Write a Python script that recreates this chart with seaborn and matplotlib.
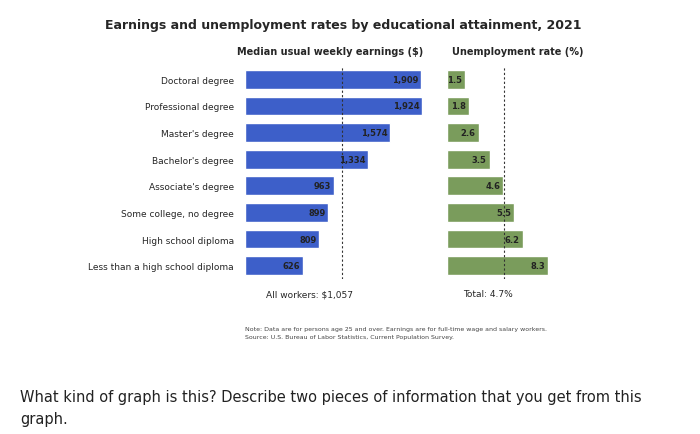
import matplotlib
matplotlib.use("Agg")
import matplotlib.pyplot as plt
import seaborn as sns
import pandas as pd

degrees = ["Doctoral degree", "Professional degree", "Master's degree", "Bachelor's degree",
           "Associate's degree", "Some college, no degree", "High school diploma",
           "Less than a high school diploma"]
earnings = [1909, 1924, 1574, 1334, 963, 899, 809, 626]
earn_labels = ["1,909", "1,924", "1,574", "1,334", "963", "899", "809", "626"]
unemployment = [1.5, 1.8, 2.6, 3.5, 4.6, 5.5, 6.2, 8.3]
all_workers = 1057
total_rate = 4.7

df = pd.DataFrame({"degree": degrees, "earn": earnings, "unemp": unemployment})
sns.set_style("white")
plt.rcParams['font.family'] = ['DejaVu Sans']

W, H = 700, 435
fig = plt.figure(figsize=(7, 4.35), dpi=100)
def ax_at(x0, x1, y0, y1):
    return fig.add_axes([x0 / W, 1 - y1 / H, (x1 - x0) / W, (y1 - y0) / H])

axL = ax_at(245, 440, 67, 280)
axR = ax_at(447, 560, 67, 280)

sns.barplot(data=df, y="degree", x="earn", orient="h", color="#3d5fc9", width=0.7,
            saturation=1, ax=axL)
sns.barplot(data=df, y="degree", x="unemp", orient="h", color="#7a9c5c", width=0.7,
            saturation=1, ax=axR)

axL.set_xlim(0, 2120)
axR.set_xlim(0, 9.26)
for ax in (axL, axR):
    ax.set_ylim(7.5, -0.5)
    ax.set_xlabel("")
    ax.set_ylabel("")
    ax.set_xticks([])
    sns.despine(ax=ax, left=True, bottom=True)

axL.tick_params(axis="y", length=0, pad=8, labelsize=6.5)
axR.set_yticks([])

for i, (v, lab) in enumerate(zip(earnings, earn_labels)):
    axL.text(v - 25, i, lab, ha="right", va="center", fontsize=6, fontweight="bold", color="#222")
for i, v in enumerate(unemployment):
    axR.text(v - 0.25, i, f"{v}", ha="right", va="center", fontsize=6, fontweight="bold", color="#222")

axL.axvline(all_workers, color="#333", ls=(0, (2, 2)), lw=0.8)
axR.axvline(total_rate, color="#333", ls=(0, (2, 2)), lw=0.8)

fig.text(105 / W, 1 - 25 / H, "Earnings and unemployment rates by educational attainment, 2021",
         fontsize=9, fontweight="bold", va="center")
fig.text(330 / W, 1 - 52 / H, "Median usual weekly earnings ($)", fontsize=7, fontweight="bold",
         ha="center", va="center")
fig.text(518 / W, 1 - 52 / H, "Unemployment rate (%)", fontsize=7, fontweight="bold",
         ha="center", va="center")
fig.text(310 / W, 1 - 295 / H, "All workers: $1,057", fontsize=6.5, ha="center", va="center")
fig.text(488 / W, 1 - 295 / H, "Total: 4.7%", fontsize=6.5, ha="center", va="center")
fig.text(245 / W, 1 - 330 / H,
         "Note: Data are for persons age 25 and over. Earnings are for full-time wage and salary workers.",
         fontsize=4.5, va="center", color="#444")
fig.text(245 / W, 1 - 337 / H,
         "Source: U.S. Bureau of Labor Statistics, Current Population Survey.",
         fontsize=4.5, va="center", color="#444")
fig.text(20 / W, 1 - 398 / H,
         "What kind of graph is this? Describe two pieces of information that you get from this",
         fontsize=10.5, va="center", color="#222")
fig.text(20 / W, 1 - 420 / H, "graph.", fontsize=10.5, va="center", color="#222")

fig.savefig("out.png", dpi=100)
